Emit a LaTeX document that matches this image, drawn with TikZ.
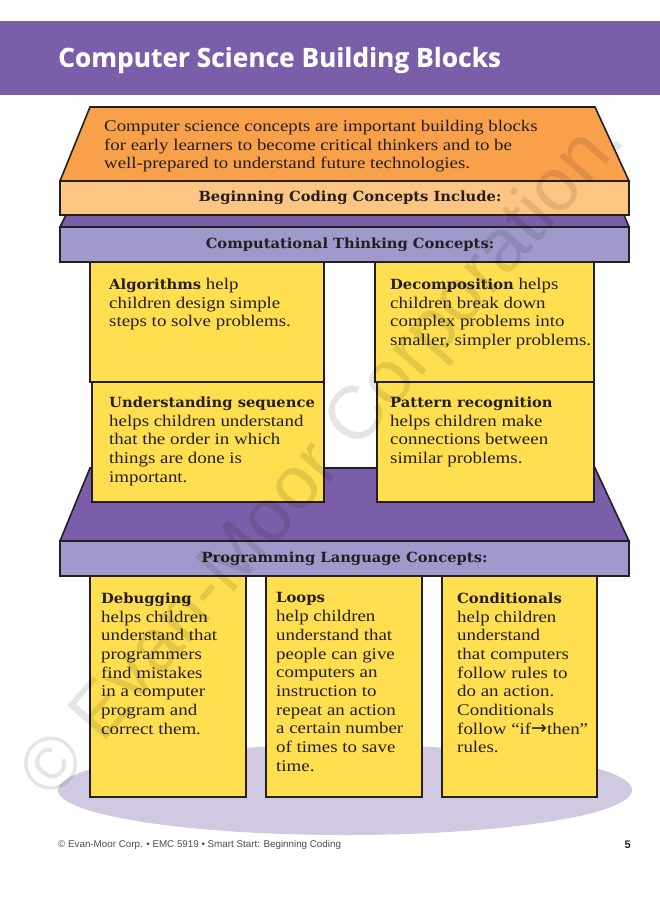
\documentclass[tikz,border=0pt]{standalone}
\usepackage{fontspec}
\setmainfont{Liberation Serif}
\newfontfamily\bodyfont[FakeStretch=1.16]{Liberation Serif}
\newfontfamily\headfont[FakeStretch=1.05]{DejaVu Serif}
\newfontfamily\titlefont[BoldFeatures={FakeBold=0.5}]{Open Sans}
\newfontfamily\footfont{Liberation Sans}
\newfontfamily\markfont{Liberation Sans}
\newfontfamily\arrowfont{DejaVu Sans}
\definecolor{hdrpurple}{HTML}{7B5EA9}
\definecolor{roofor}{HTML}{F9A04B}
\definecolor{peach}{HTML}{FDC583}
\definecolor{lav}{HTML}{9F9ACB}
\definecolor{yel}{HTML}{FFDE4F}
\definecolor{ell}{HTML}{D1C9E2}
\definecolor{ink}{HTML}{231F20}
\newcommand{\bh}[1]{{\headfont\bfseries\fontsize{14.05}{18.7}\selectfont #1}}
\newcommand{\bandtext}[1]{\raisebox{-3pt}{#1}}
\tikzset{
  x=1pt,y=-1pt,
  outl/.style={draw=ink,line width=1.6pt,line join=miter},
  band/.style={outl,outer sep=0pt,minimum height=34pt,inner sep=0pt,anchor=north west,font=\headfont\bfseries\fontsize{14}{17}\selectfont,text=ink},
  ybox/.style={outl,outer sep=0pt,fill=yel,inner sep=0pt,anchor=north west},
  txt/.style={anchor=north west,inner sep=0pt,align=left,text=ink,font=\bodyfont\fontsize{16.3}{18.7}\selectfont},
}
\begin{document}
\begin{tikzpicture}
\useasboundingbox (0,0) rectangle (660,900);
\fill[white] (0,0) rectangle (660,900);
\node[fill=hdrpurple,anchor=north west,minimum width=660pt,minimum height=74pt,inner sep=0pt] (header) at (0,21) {};
\node[anchor=west,inner sep=0pt,text=white,font=\titlefont\bfseries\fontsize{26.3}{30}\selectfont] (title) at (58,60) {Computer Science Building Blocks};
% ellipse
\fill[ell] (345,790) ellipse [x radius=287, y radius=45];
% roof
\draw[outl,fill=roofor] (90,107) -- (595,107) -- (629,181) -- (60,181) -- cycle;
\node[txt,font=\bodyfont\fontsize{16.25}{18.6}\selectfont] (intro) at (104,120) {Computer science concepts are important building blocks\\for early learners to become critical thinkers and to be\\well-prepared to understand future technologies.};
\draw[outl,fill=hdrpurple] (66,215) -- (624,215) -- (629,227) -- (60,227) -- cycle;
\node[band,fill=peach,minimum width=569pt] (begin) at (60,181) {\hspace*{11pt}\bandtext{Beginning Coding Concepts Include:}};
\node[band,fill=lav,minimum width=569pt,minimum height=35pt] (comp) at (60,227) {\hspace*{11pt}\bandtext{Computational Thinking Concepts:}};
% table
\draw[outl,fill=hdrpurple] (90,468) -- (595,468) -- (629,541) -- (60,541) -- cycle;
\node[band,fill=lav,minimum width=569pt,minimum height=35pt] (prog) at (60,541) {\bandtext{Programming Language Concepts:}};
% upper boxes
\node[ybox,minimum width=234pt,minimum height=120pt] (alg) at (90,262) {};
\node[ybox,minimum width=232pt,minimum height=120pt] (seq) at (92,382) {};
\node[ybox,minimum width=219pt,minimum height=120pt] (dec) at (375,262) {};
\node[ybox,minimum width=217pt,minimum height=120pt] (pat) at (377,382) {};
\node[txt] (talg) at (109,278) {\bh{Algorithms} help\\children design simple\\steps to solve problems.};
\node[txt] (tseq) at (109,396.5) {\bh{Understanding sequence}\\helps children understand\\that the order in which\\things are done is\\important.};
\node[txt] (tdec) at (390,278) {\bh{Decomposition} helps\\children break down\\complex problems into\\smaller, simpler problems.};
\node[txt] (tpat) at (390,396.5) {\bh{Pattern recognition}\\helps children make\\connections between\\similar problems.};
% lower boxes
\node[ybox,minimum width=156pt,minimum height=221pt] (dbg) at (90,576) {};
\node[ybox,minimum width=156pt,minimum height=221pt] (lop) at (266,576) {};
\node[ybox,minimum width=155pt,minimum height=221pt] (cnd) at (442,576) {};
\node[txt] (tdbg) at (101,592.5) {\bh{Debugging}\\helps children\\understand that\\programmers\\find mistakes\\in a computer\\program and\\correct them.};
\node[txt] (tlop) at (276,592.5) {\bh{Loops}\\help children\\understand that\\people can give\\computers an\\instruction to\\repeat an action\\a certain number\\of times to save\\time.};
\node[txt] (tcnd) at (457,592.5) {\bh{Conditionals}\\help children\\understand\\that computers\\follow rules to\\do an action.\\Conditionals\\follow “if{\arrowfont\fontsize{19}{18.7}\selectfont→}then”\\rules.};
% footer
\node[anchor=west,inner sep=0pt,text=ink!80,font=\footfont\fontsize{9.8}{12}\selectfont] (foot) at (58,845) {© Evan-Moor Corp. • EMC 5919 • Smart Start: Beginning Coding};
\node[anchor=east,inner sep=0pt,text=ink,font=\footfont\bfseries\fontsize{11}{12}\selectfont] (pg) at (631,845) {5};
% watermark
\node[rotate=49,anchor=base west,inner sep=0pt,text=black,opacity=.1,font=\markfont\fontsize{75}{80}\selectfont] (mark) at (52,802) {© Evan-Moor Corporation.};
\end{tikzpicture}
\end{document}
